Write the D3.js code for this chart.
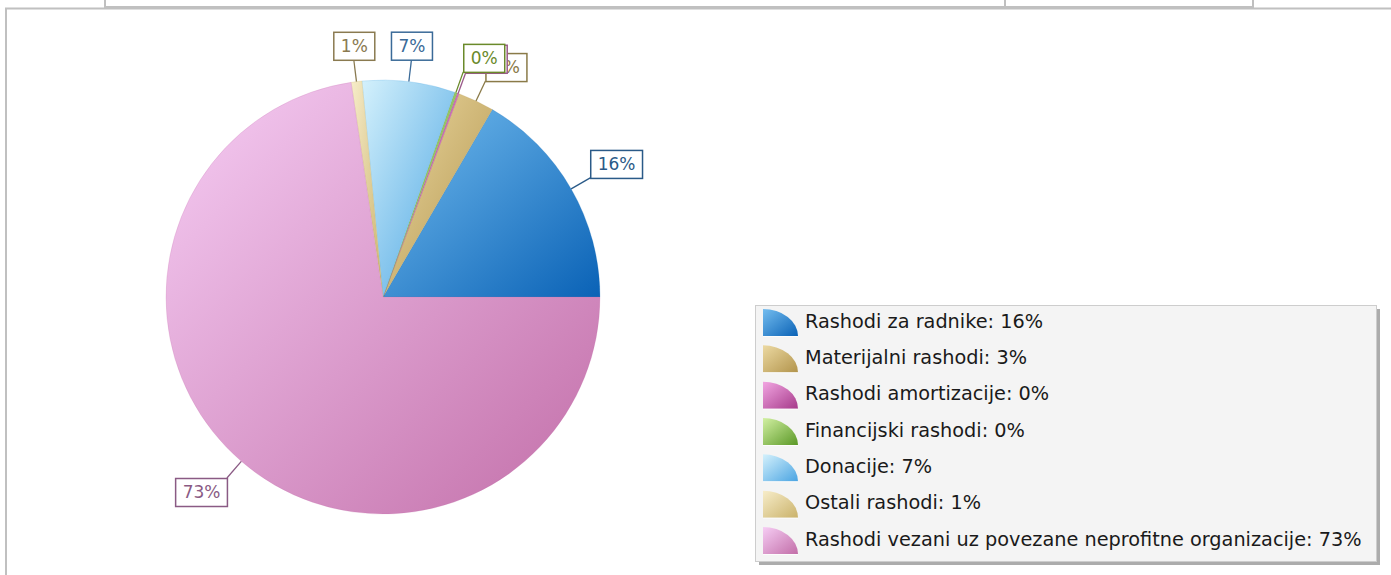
<!DOCTYPE html>
<html><head><meta charset="utf-8">
<script src="https://cdn.jsdelivr.net/npm/d3@7"></script>
<style>html,body{margin:0;padding:0;background:#fff;}svg{display:block;}</style>
</head><body>
<svg id="chart" width="1391" height="575"></svg>
<script>
// ---- data ----
const categories = [
  "Rashodi za radnike",
  "Materijalni rashodi",
  "Rashodi amortizacije",
  "Financijski rashodi",
  "Donacije",
  "Ostali rashodi",
  "Rashodi vezani uz povezane neprofitne organizacije"
];
const values = [16.6, 2.7, 0.15, 0.2, 6.9, 0.8, 72.65];
const percentLabels = ["16%", "3%", "0%", "0%", "7%", "1%", "73%"];

// ---- styles ----
const lightColors = ["#74bdef", "#ecd9a2", "#f2a6e2", "#d2f0a2", "#d4f1fc", "#f7edca", "#f6cdf4"];
const darkColors  = ["#0a62b6", "#b2944c", "#a63a8a", "#5a9826", "#4aa4e2", "#cab26a", "#c26ea8"];
const labelColors = ["#2a5a88", "#8a7a48", "#9a5a8a", "#6a8a2a", "#3a6a98", "#8a7a50", "#8a5a84"];

const svg = d3.select("#chart");
const FONT = "DejaVu Sans, Verdana, sans-serif";

// ---- page frame ----
const frame = svg.append("g").attr("fill", "#c0c0c0");
frame.append("rect").attr("x", 5).attr("y", 7.5).attr("width", 1386).attr("height", 2);
frame.append("rect").attr("x", 104).attr("y", 6).attr("width", 1150).attr("height", 3);
frame.append("rect").attr("x", 5).attr("y", 8).attr("width", 2).attr("height", 567);
[104, 1004, 1252].forEach(x => frame.append("rect").attr("x", x).attr("y", 0).attr("width", 2).attr("height", 8));

// ---- gradients ----
const defs = svg.append("defs");
categories.forEach((c, i) => {
  const g = defs.append("linearGradient").attr("id", "g" + i)
    .attr("x1", 0).attr("y1", 0).attr("x2", 1).attr("y2", 1);
  g.append("stop").attr("offset", "0%").attr("stop-color", lightColors[i]);
  g.append("stop").attr("offset", "100%").attr("stop-color", darkColors[i]);
});

// ---- pie ----
const cx = 383, cy = 297, R = 217;
const data = categories.map((c, i) => ({ name: c, value: values[i], label: percentLabels[i], i }));
const pie = d3.pie().sort(null).value(d => d.value)
  .startAngle(Math.PI / 2).endAngle(Math.PI / 2 - 2 * Math.PI);
const arcs = pie(data);
const arc = d3.arc().innerRadius(0).outerRadius(R);

const gPie = svg.append("g").attr("transform", `translate(${cx},${cy})`);
gPie.selectAll("path").data(arcs).join("path")
  .attr("d", arc)
  .attr("fill", d => `url(#g${d.data.i})`)
  .attr("stroke", d => darkColors[d.data.i])
  .attr("stroke-width", 0.4)
  .attr("stroke-opacity", 0.5);

// ---- labels ----
const labelFont = 17;
const gLab = svg.append("g").attr("transform", `translate(${cx},${cy})`);
arcs.forEach(a => {
  const mid = (a.startAngle + a.endAngle) / 2;
  const sx = Math.sin(mid), sy = -Math.cos(mid);
  const p0 = [sx * R, sy * R], p1 = [sx * (R + 22), sy * (R + 22)];
  const col = labelColors[a.data.i];
  const g = gLab.append("g");
  g.append("line").attr("x1", p0[0]).attr("y1", p0[1]).attr("x2", p1[0]).attr("y2", p1[1])
    .attr("stroke", col).attr("stroke-width", 1.3);
  const t = g.append("text").text(a.data.label)
    .attr("font-family", FONT).attr("font-size", labelFont).attr("fill", col);
  const tw = t.node().getComputedTextLength();
  const bw = tw + 14, bh = 28;
  const fx = sx > 0.3 ? 0 : (sx < -0.3 ? 1 : 0.5);
  const fy = sy < -0.3 ? 1 : (sy > 0.3 ? 0 : 0.5);
  const bx = p1[0] - fx * bw, by = p1[1] - fy * bh;
  g.insert("rect", "text").attr("x", bx + 0.5).attr("y", by + 0.5).attr("width", bw).attr("height", bh)
    .attr("fill", "#fff").attr("stroke", col).attr("stroke-width", 1.5);
  t.attr("x", bx + bw / 2 + 0.5).attr("y", by + bh / 2 + 1).attr("text-anchor", "middle")
    .attr("dominant-baseline", "middle");
});

// ---- legend ----
const L = { x: 755, y: 305, w: 621, h: 256 };
svg.append("rect").attr("x", L.x + 4).attr("y", L.y + 4).attr("width", L.w).attr("height", L.h)
  .attr("fill", "#acacac");
svg.append("rect").attr("x", L.x + 0.5).attr("y", L.y + 0.5).attr("width", L.w).attr("height", L.h)
  .attr("fill", "#f4f4f4").attr("stroke", "#cdcdcd");

const rowY = d3.scalePoint().domain(d3.range(categories.length)).range([322, 540]);
const legend = svg.append("g");
const targetW = 557;
// fit font to reference text width
const probe = legend.append("text").attr("font-family", FONT).attr("font-size", 20)
  .text(categories[6] + ": " + percentLabels[6]);
const legFont = 20 * targetW / probe.node().getComputedTextLength();
probe.remove();

data.forEach((d, i) => {
  const y = rowY(i);
  const ix = 763, iw = 35, ih = 27, iy = y - 13;
  legend.append("path")
    .attr("d", `M${ix},${iy} L${ix},${iy + ih} L${ix + iw},${iy + ih} A${iw},${ih} 0 0 0 ${ix},${iy} Z`)
    .attr("fill", `url(#g${i})`);
  legend.append("line").attr("x1", ix).attr("x2", ix + iw).attr("y1", iy + ih + 0.5).attr("y2", iy + ih + 0.5)
    .attr("stroke", "#ffffff").attr("stroke-opacity", 0.7);
  legend.append("text").attr("x", 805).attr("y", y).attr("dominant-baseline", "middle")
    .attr("font-family", FONT).attr("font-size", legFont).attr("fill", "#1a1a1a")
    .text(d.name + ": " + d.label);
});
</script>
</body></html>
